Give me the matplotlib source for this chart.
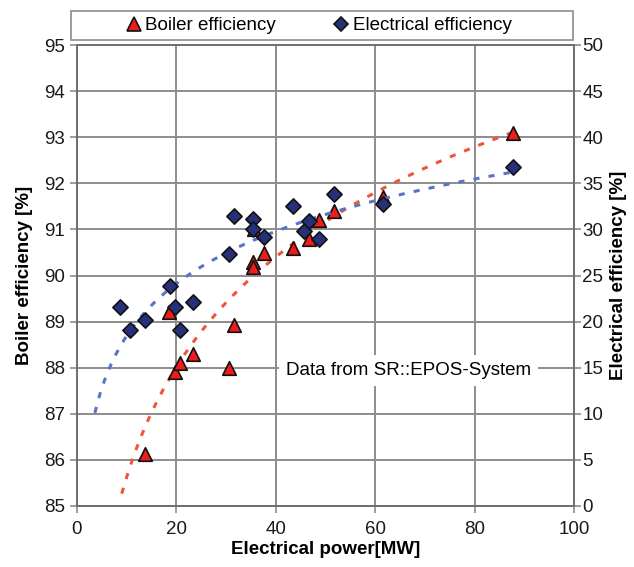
import numpy as np
import matplotlib
matplotlib.use("Agg")
import matplotlib.pyplot as plt
from matplotlib.patches import Rectangle
from matplotlib.lines import Line2D

plt.rcParams['font.family'] = ['Liberation Sans', 'DejaVu Sans']

# Boiler efficiency data (triangles)
boiler_power = [13.7, 18.5, 19.7, 20.7, 23.3, 30.6, 31.6, 35.4, 35.4, 35.6, 37.6,
                43.4, 46.7, 48.7, 51.7, 61.6, 87.7]
boiler_eff = [86.13, 89.2, 87.9, 88.1, 88.3, 88.0, 88.93, 90.3, 90.18, 91.0, 90.49,
              90.6, 90.8, 91.2, 91.4, 91.7, 93.1]

# Electrical efficiency data (diamonds)
elec_power = [8.7, 10.7, 13.7, 18.7, 19.7, 20.7, 23.3, 30.6, 31.6, 35.4, 35.4, 37.6,
              43.4, 45.7, 46.7, 48.7, 51.7, 61.6, 87.7]
elec_eff = [21.6, 19.1, 20.2, 23.9, 21.6, 19.1, 22.1, 27.3, 31.5, 31.1, 30.0, 29.2,
            32.5, 29.8, 30.9, 29.0, 33.8, 32.8, 36.8]

# trend line ranges (logarithmic trendlines)
boiler_trend_range = (9.0, 88.0)
elec_trend_range = (3.6, 88.0)

x_ticks = [0, 20, 40, 60, 80, 100]
left_ticks = list(range(85, 96))
right_ticks = list(range(0, 51, 5))

fig = plt.figure(figsize=(6.34, 5.67), dpi=100)
ax = fig.add_axes([77/634, 1-506/567, (574-77)/634, (506-45)/567])
ax2 = ax.twinx()

FS = 13.5
grid_c = '#8c8c8c'

ax.set_xlim(0, 100)
ax.set_ylim(85, 95)
ax2.set_ylim(0, 50)
ax.set_xticks(x_ticks)
ax.set_yticks(left_ticks)
ax2.set_yticks(right_ticks)
ax.grid(True, color=grid_c, linewidth=1.4)
ax.set_axisbelow(True)
for a in (ax, ax2):
    for s in a.spines.values():
        s.set_color('#6e6e6e')
        s.set_linewidth(1.2)
ax.tick_params(axis='both', labelsize=FS, color=grid_c, length=5, width=1.2, colors='#1a1a1a')
ax2.tick_params(axis='y', labelsize=FS, color=grid_c, length=5, width=1.2, colors='#1a1a1a', pad=1)
ax.tick_params(axis='x', pad=6)

# trendlines fitted from the data
pb = np.polyfit(np.log(boiler_power), boiler_eff, 1)
pe = np.polyfit(np.log(elec_power), elec_eff, 1)
xb = np.linspace(*boiler_trend_range, 200)
xe = np.linspace(*elec_trend_range, 200)
ax.plot(xb, np.polyval(pb, np.log(xb)), color='#f0553a', lw=2.2, dashes=(2, 3), zorder=2)
ax2.plot(xe, np.polyval(pe, np.log(xe)), color='#5a72c8', lw=2.2, dashes=(2, 3), zorder=2)

ax.scatter(boiler_power, boiler_eff, marker='^', s=95, facecolor='#ee1c1c',
           edgecolor='#111111', linewidth=1.2, zorder=4, clip_on=False)
ax2.scatter(elec_power, elec_eff, marker='D', s=60, facecolor='#26317a',
            edgecolor='#111111', linewidth=1.2, zorder=5, clip_on=False)

ax.set_xlabel('Electrical power[MW]', fontsize=FS, fontweight='bold', labelpad=2)
ax.set_ylabel('Boiler efficiency [%]', fontsize=FS, fontweight='bold', labelpad=8)
ax2.set_ylabel('Electrical efficiency [%]', fontsize=FS, fontweight='bold', labelpad=5)

ax.text(42.0, 87.93, 'Data from SR::EPOS-System', fontsize=FS, va='center', ha='left',
        zorder=6, bbox=dict(facecolor='white', edgecolor='none', pad=5))

# legend box above the plot
fig.patches.append(Rectangle((71/634, 1-40/567), (573-71)/634, 29/567,
                             transform=fig.transFigure, facecolor='white',
                             edgecolor='#8c8c8c', linewidth=1.2))
handles = [Line2D([], [], marker='^', ls='none', markersize=10, markerfacecolor='#ee1c1c',
                  markeredgecolor='#111111', markeredgewidth=1.2),
           Line2D([], [], marker='D', ls='none', markersize=7.5, markerfacecolor='#26317a',
                  markeredgecolor='#111111', markeredgewidth=1.2)]
fig.legend(handles, ['Boiler efficiency', 'Electrical efficiency'], loc='center',
           bbox_to_anchor=(318/634, 1-25.5/567), ncol=2, frameon=False, fontsize=FS,
           handletextpad=0.1, columnspacing=3.0, handlelength=1.0)

fig.savefig('out.png', dpi=100)
